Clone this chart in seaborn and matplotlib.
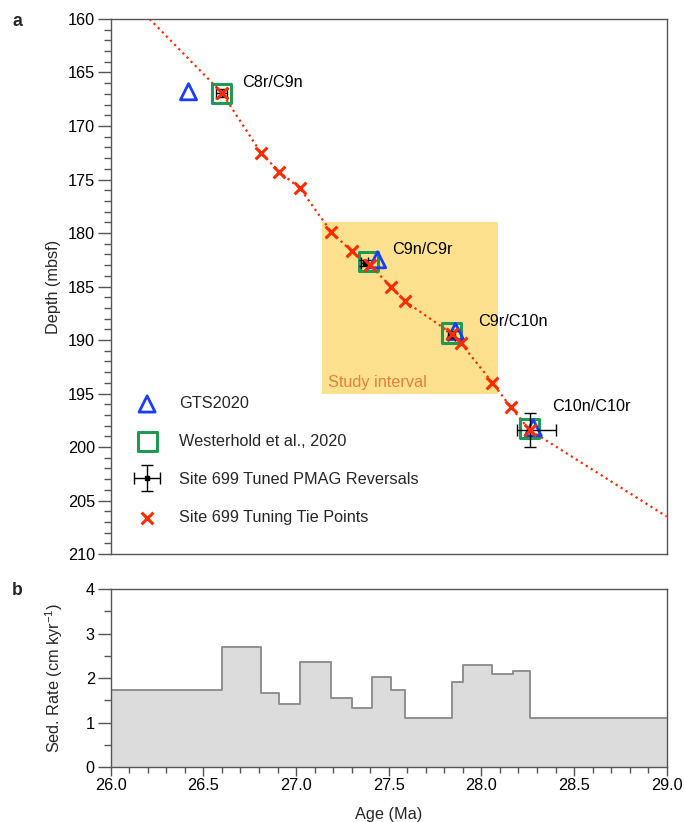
import numpy as np
import pandas as pd
import matplotlib
matplotlib.use("Agg")
import matplotlib.pyplot as plt
import seaborn as sns
from matplotlib.ticker import MultipleLocator, FormatStrFormatter
from matplotlib.container import ErrorbarContainer
from matplotlib.legend_handler import HandlerErrorbar
from matplotlib.patches import Rectangle

# ---------------- data ----------------
tie_age = [26.60, 26.81, 26.91, 27.02, 27.19, 27.30, 27.40, 27.51, 27.59, 27.84, 27.89, 28.06, 28.16, 28.26]
tie_depth = [166.9, 172.5, 174.3, 175.8, 179.9, 181.7, 183.0, 185.0, 186.4, 189.4, 190.3, 194.0, 196.3, 198.4]

line_age = [26.21] + tie_age + [29.0]
line_depth = [160.0] + tie_depth + [206.5]

gts_age = [26.42, 27.44, 27.86, 28.28]
gts_depth = [166.8, 182.5, 189.2, 198.2]

west_age = [26.60, 27.39, 27.84, 28.26]
west_depth = [167.0, 182.7, 189.35, 198.3]

pmag_age = [26.60, 27.37, 27.84, 28.26]
pmag_depth = [166.9, 182.8, 189.5, 198.4]
pmag_xerr_lo = [0.03, 0.02, 0.02, 0.07]
pmag_xerr_hi = [0.03, 0.02, 0.02, 0.14]
pmag_yerr = [0.4, 0.3, 0.3, 1.6]

chron_labels = ["C8r/C9n", "C9n/C9r", "C9r/C10n", "C10n/C10r"]
chron_label_age = [26.71, 27.52, 27.98, 28.38]
chron_label_depth = [165.9, 181.5, 188.3, 196.2]

study_age = [27.14, 28.09]
study_depth = [179.0, 195.0]

sed_edges = [26.0, 26.60, 26.81, 26.91, 27.02, 27.19, 27.30, 27.41, 27.51, 27.59,
             27.84, 27.90, 28.06, 28.17, 28.26, 29.0]
sed_rate = [1.74, 2.69, 1.67, 1.41, 2.36, 1.54, 1.32, 2.02, 1.73, 1.11,
            1.90, 2.29, 2.10, 2.15, 1.09]

# ---------------- style ----------------
sns.set_theme(style="ticks")
plt.rcParams["font.family"] = ["Liberation Sans", "DejaVu Sans"]
plt.rcParams["mathtext.fontset"] = "custom"
plt.rcParams["mathtext.rm"] = "Liberation Sans"
plt.rcParams["mathtext.it"] = "Liberation Sans:italic"
FS = 11.7
SPINE = "#555555"
RED = "#ff2a00"
BLUE = "#1a3cff"
GREEN = "#1f9a55"

fig = plt.figure(figsize=(6.84, 8.22), dpi=100)
ax1 = fig.add_axes([110.7 / 684, 1 - 554 / 822, 556 / 684, 535 / 822])
ax2 = fig.add_axes([110.7 / 684, 1 - 767 / 822, 556 / 684, 178 / 822])

# ---------------- panel a ----------------
ax1.add_patch(Rectangle((study_age[0], study_depth[0]), study_age[1] - study_age[0],
                        study_depth[1] - study_depth[0], facecolor="#fde18f",
                        edgecolor="none", zorder=0))
ax1.text(study_age[0] + 0.035, study_depth[1] - 1.0, "Study interval", color="#e5803a",
         fontsize=FS, ha="left", va="center", zorder=1)

line_df = pd.DataFrame({"age": line_age, "depth": line_depth})
sns.lineplot(data=line_df, x="age", y="depth", sort=False, ax=ax1, color=RED,
             linestyle=":", linewidth=1.6, zorder=2)

west_df = pd.DataFrame({"age": west_age, "depth": west_depth})
sns.scatterplot(data=west_df, x="age", y="depth", ax=ax1, marker="s", s=190,
                facecolors="none", edgecolors=GREEN, linewidth=2.2, zorder=3,
                label="Westerhold et al., 2020")

gts_df = pd.DataFrame({"age": gts_age, "depth": gts_depth})
sns.scatterplot(data=gts_df, x="age", y="depth", ax=ax1, marker="^", s=135,
                facecolors="none", edgecolors=BLUE, linewidth=2.0, zorder=4,
                label="GTS2020")

eb = ax1.errorbar(pmag_age, pmag_depth, xerr=[pmag_xerr_lo, pmag_xerr_hi], yerr=pmag_yerr,
                  fmt="s", ms=3.5, color="black", ecolor="black", elinewidth=1.0,
                  capsize=4, capthick=1.0, zorder=5,
                  label="Site 699 Tuned PMAG Reversals")

tie_df = pd.DataFrame({"age": tie_age, "depth": tie_depth})
sns.scatterplot(data=tie_df, x="age", y="depth", ax=ax1, marker="x", s=72,
                color=RED, linewidth=2.2, zorder=6, label="Site 699 Tuning Tie Points")

for lab, a, d in zip(chron_labels, chron_label_age, chron_label_depth):
    ax1.text(a, d, lab, fontsize=FS, ha="left", va="center", color="black", zorder=7)

ax1.set_xlim(26.0, 29.0)
ax1.set_ylim(210, 160)
ax1.yaxis.set_major_locator(MultipleLocator(5))
ax1.yaxis.set_minor_locator(MultipleLocator(1))
ax1.tick_params(axis="x", which="both", bottom=False, labelbottom=False)
ax1.set_xlabel("")
ax1.set_ylabel("Depth (mbsf)", fontsize=FS, labelpad=5)

handles, labels = ax1.get_legend_handles_labels()
order = ["GTS2020", "Westerhold et al., 2020", "Site 699 Tuned PMAG Reversals",
         "Site 699 Tuning Tie Points"]
hmap = dict(zip(labels, handles))
ax1.legend([hmap[k] for k in order], order, loc="upper left",
           bbox_to_anchor=(0.0095, 0.31), frameon=False, fontsize=FS,
           handlelength=2.83, handletextpad=0.55, labelspacing=1.41, borderpad=0,
           handler_map={ErrorbarContainer: HandlerErrorbar(xerr_size=0.8)})

# ---------------- panel b ----------------
sed_vals = sed_rate + [sed_rate[-1]]
sed_df = pd.DataFrame({"age": sed_edges, "rate": sed_vals})
ax2.fill_between(sed_df["age"], 0, sed_df["rate"], step="post", color="#dcdcdc",
                 linewidth=0, zorder=1)
sns.lineplot(data=sed_df, x="age", y="rate", ax=ax2, drawstyle="steps-post",
             color="#8f8f8f", linewidth=1.4, zorder=2)

ax2.set_xlim(26.0, 29.0)
ax2.set_ylim(0, 4)
ax2.xaxis.set_major_locator(MultipleLocator(0.5))
ax2.xaxis.set_minor_locator(MultipleLocator(0.1))
ax2.xaxis.set_major_formatter(FormatStrFormatter("%.1f"))
ax2.yaxis.set_major_locator(MultipleLocator(1))
ax2.yaxis.set_minor_locator(MultipleLocator(0.5))
ax2.set_xlabel("Age (Ma)", fontsize=FS, labelpad=10)
ax2.set_ylabel("Sed. Rate (cm kyr$^{-1}$)", fontsize=FS, labelpad=15)

for ax in (ax1, ax2):
    for sp in ax.spines.values():
        sp.set_visible(True)
        sp.set_color(SPINE)
        sp.set_linewidth(1.0)
    ax.tick_params(axis="y", which="major", direction="out", length=9.4, width=1.0,
                   color=SPINE, labelsize=FS, pad=2, labelcolor="black")
    ax.tick_params(axis="y", which="minor", direction="out", length=5, width=1.0,
                   color=SPINE)
    ax.grid(False)

ax2.tick_params(axis="x", which="major", direction="out", length=6.7, width=1.0,
                color=SPINE, labelsize=FS, pad=1, labelcolor="black")
ax2.tick_params(axis="x", which="minor", direction="out", length=4.3, width=1.0,
                color=SPINE)

fig.text(17.5 / 684, 1 - 21.7 / 822, "a", fontsize=FS + 1, fontweight="bold",
         ha="center", va="center")
fig.text(17.5 / 684, 1 - 590.7 / 822, "b", fontsize=FS + 1, fontweight="bold",
         ha="center", va="center")

fig.savefig("out.png", dpi=100)
